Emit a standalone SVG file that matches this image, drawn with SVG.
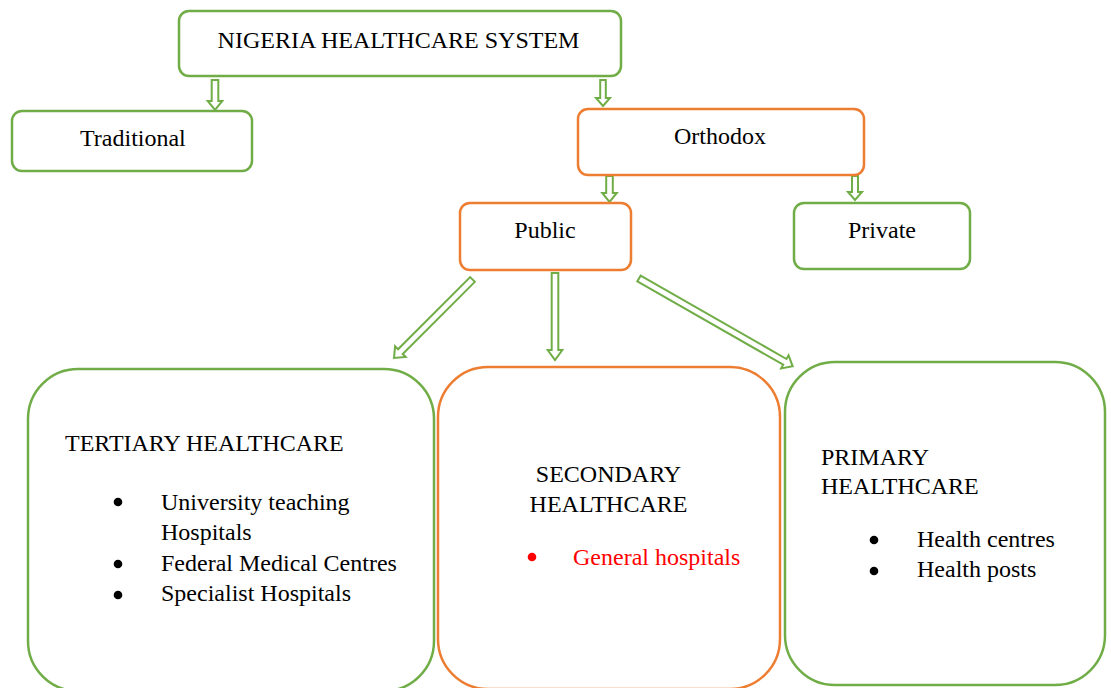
<svg xmlns="http://www.w3.org/2000/svg" width="1111" height="688" viewBox="0 0 1111 688">
<style>
.g{fill:#fff;stroke:#70AD47;stroke-width:2.5}
.o{fill:#fff;stroke:#ED7D31;stroke-width:2.5}
.t{font-family:"Liberation Serif","Times New Roman",serif;font-size:24px;fill:#000}
.c{text-anchor:middle}
.r{fill:#FF0000}
.a{fill:#fff;stroke:#70AD47;stroke-width:2}
</style>
<rect width="1111" height="688" fill="#fff"/>
<g id="connectors">
<polygon class="a" transform="translate(215,80)" points="-3.3,0 3.3,0 3.3,21 7.3,21 0,30 -7.3,21 -3.3,21"/>
<polygon class="a" transform="translate(603,80)" points="-2.8,0 2.8,0 2.8,18 7,18 0,26 -7,18 -2.8,18"/>
<polygon class="a" transform="translate(609.5,176)" points="-3.3,0 3.3,0 3.3,17 7.3,17 0,26 -7.3,17 -3.3,17"/>
<polygon class="a" transform="translate(855,176)" points="-3,0 3,0 3,16 7,16 0,24 -7,16 -3,16"/>
<polygon class="a" transform="translate(472.5,279.5) rotate(45)" points="-3.3,0 3.3,0 3.3,102 7.5,102 0,111 -7.5,102 -3.3,102"/>
<polygon class="a" transform="translate(555,273)" points="-3.3,0 3.3,0 3.3,77 7.3,77 0,87 -7.3,77 -3.3,77"/>
<polygon class="a" transform="translate(639,278.5) rotate(-60.25)" points="-3.3,0 3.3,0 3.3,168 7.5,168 0,177 -7.5,168 -3.3,168"/>
</g>
<g id="root">
<rect class="g" x="179" y="11" width="442" height="65" rx="10"/>
<text class="t c" x="398.5" y="48">NIGERIA HEALTHCARE SYSTEM</text>
</g>
<g id="traditional">
<rect class="g" x="12" y="111" width="240" height="60" rx="10"/>
<text class="t" x="80" y="146">Traditional</text>
</g>
<g id="orthodox">
<rect class="o" x="578" y="109" width="286" height="66" rx="10"/>
<text class="t c" x="720" y="144">Orthodox</text>
</g>
<g id="public">
<rect class="o" x="460" y="203" width="171" height="67" rx="10"/>
<text class="t c" x="545" y="238">Public</text>
</g>
<g id="private">
<rect class="g" x="794" y="203" width="176" height="66" rx="10"/>
<text class="t c" x="882" y="238">Private</text>
</g>
<g id="tertiary">
<rect class="g" x="28" y="369" width="406" height="322" rx="50"/>
<text class="t" x="65" y="451">TERTIARY HEALTHCARE</text>
<circle cx="118" cy="502" r="4.3"/>
<text class="t" x="161" y="510">University teaching</text>
<text class="t" x="161" y="540">Hospitals</text>
<circle cx="118" cy="564" r="4.3"/>
<text class="t" x="161" y="571">Federal Medical Centres</text>
<circle cx="118" cy="595" r="4.3"/>
<text class="t" x="161" y="601">Specialist Hospitals</text>
</g>
<g id="secondary">
<rect class="o" x="438" y="367" width="342" height="322" rx="50"/>
<text class="t c" x="608.5" y="482">SECONDARY</text>
<text class="t c" x="608.5" y="512">HEALTHCARE</text>
<circle class="r" cx="532" cy="557" r="4.3"/>
<text class="t r" x="573" y="565">General hospitals</text>
</g>
<g id="primary">
<rect class="g" x="785" y="362" width="320" height="323" rx="50"/>
<text class="t" x="821" y="465">PRIMARY</text>
<text class="t" x="821" y="494">HEALTHCARE</text>
<circle cx="874" cy="540" r="4.3"/>
<text class="t" x="917" y="547">Health centres</text>
<circle cx="874" cy="571" r="4.3"/>
<text class="t" x="917" y="577">Health posts</text>
</g>
</svg>
